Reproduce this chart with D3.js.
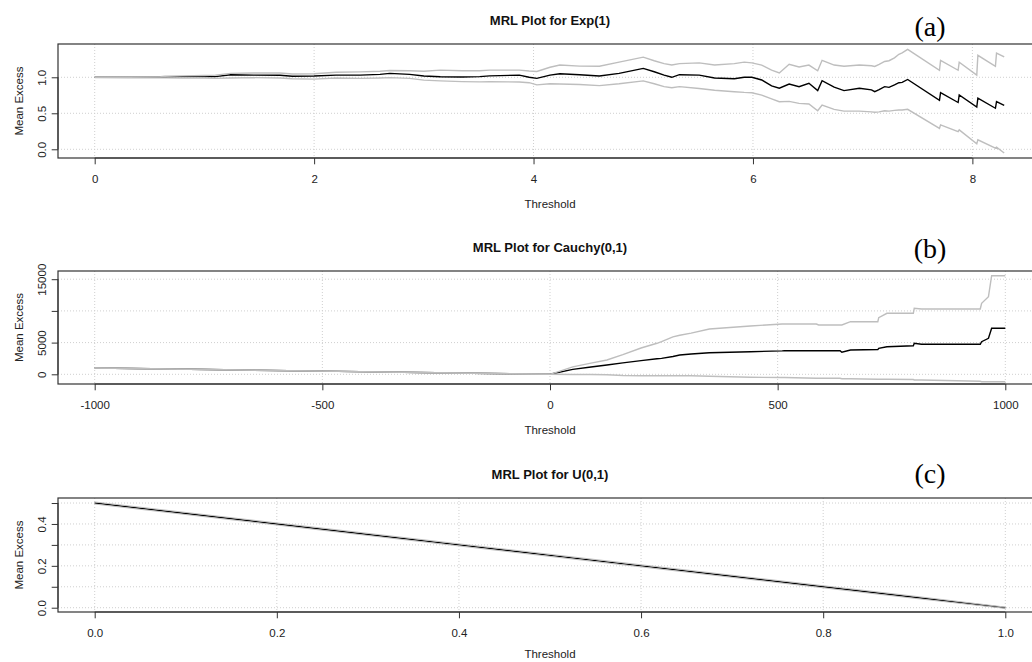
<!DOCTYPE html>
<html><head><meta charset="utf-8">
<script src="https://cdn.jsdelivr.net/npm/d3@7"></script>
<style>body{margin:0;background:#fff}svg{display:block}</style>
</head><body><svg id="chart" width="1032" height="662"></svg>
<script>
// ---------- Panel (a): MRL for Exp(1) ----------
const expThreshold = [0.00,0.30,0.60,0.64,0.80,1.00,1.10,1.24,1.45,1.69,
  1.80,2.00,2.20,2.42,2.60,2.69,2.87,3.00,3.15,3.35,
  3.51,3.60,3.87,3.96,4.03,4.15,4.24,4.42,4.60,4.78,
  5.00,5.10,5.19,5.26,5.33,5.51,5.65,5.83,5.92,5.99,
  6.08,6.17,6.24,6.33,6.42,6.51,6.59,6.63,6.74,6.83,
  6.97,7.08,7.11,7.15,7.20,7.24,7.29,7.33,7.36,7.41,
  7.70,7.71,7.87,7.88,8.04,8.05,8.21,8.22,8.29];
const expMean = [1.000,1.000,1.000,1.005,1.010,1.012,1.010,1.035,1.030,1.028,
  1.015,1.018,1.030,1.030,1.040,1.055,1.040,1.018,1.008,1.005,
  1.010,1.020,1.030,1.000,0.985,1.030,1.050,1.035,1.018,1.055,
  1.124,1.077,1.030,1.000,1.036,1.030,0.990,0.980,1.000,1.000,
  0.963,0.880,0.848,0.907,0.870,0.917,0.815,0.953,0.862,0.815,
  0.848,0.825,0.800,0.830,0.870,0.860,0.894,0.925,0.930,0.970,
  0.680,0.787,0.650,0.756,0.586,0.710,0.570,0.663,0.610];
const expUpper = [1.004,1.006,1.008,1.015,1.020,1.025,1.030,1.055,1.060,1.060,
  1.045,1.050,1.070,1.075,1.085,1.095,1.090,1.085,1.100,1.090,
  1.090,1.100,1.100,1.087,1.080,1.140,1.170,1.155,1.153,1.210,
  1.280,1.230,1.190,1.170,1.190,1.200,1.170,1.190,1.210,1.200,
  1.170,1.100,1.060,1.180,1.143,1.170,1.090,1.236,1.170,1.153,
  1.170,1.160,1.150,1.180,1.220,1.230,1.270,1.320,1.340,1.388,
  1.098,1.236,1.098,1.210,1.030,1.305,1.153,1.337,1.282];
const expLower = [0.996,0.994,0.992,0.992,0.990,0.990,0.985,0.990,0.995,0.990,
  0.980,0.975,0.990,0.985,0.990,0.995,0.985,0.960,0.950,0.940,
  0.937,0.940,0.935,0.925,0.895,0.910,0.907,0.900,0.884,0.910,
  0.950,0.910,0.870,0.855,0.870,0.845,0.820,0.800,0.790,0.785,
  0.753,0.700,0.660,0.665,0.638,0.630,0.536,0.615,0.555,0.530,
  0.530,0.520,0.515,0.520,0.535,0.530,0.540,0.545,0.545,0.555,
  0.290,0.340,0.246,0.270,0.076,0.131,0.017,0.030,-0.052];
const expXTicks = [0,2,4,6,8];
const expYTicks = [0,0.5,1.0];
const expYLabels = [0,0.5,1.0];

// ---------- Panel (b): MRL for Cauchy(0,1) ----------
const cauchyThreshold = [-1000,-750,-500,-250,0,50,90,125,160,200,
  235,245,270,285,310,350,440,510,515,585,
  590,637,641,660,720,722,740,798,800,816,
  945,948,963,970,1000];
const cauchyMean = [1000,750,500,250,0,780,1150,1470,1800,2150,
  2450,2520,2800,3040,3200,3410,3565,3700,3722,3722,
  3722,3722,3470,3833,3900,4101,4353,4511,4890,4732,
  4732,5142,5678,7255,7255];
const cauchyUpper = [1005,755,505,255,0,1180,1760,2250,3100,4150,
  4890,5150,5900,6150,6500,7150,7618,7934,7934,7934,
  7776,7776,7776,8297,8297,8927,9621,9621,10410,10300,
  10300,11199,12240,15552,15552];
const cauchyLower = [995,745,495,245,0,-20,-40,-60,-200,-221,
  -221,-221,-230,-230,-240,-300,-473,-500,-500,-631,
  -631,-631,-700,-700,-789,-789,-789,-830,-899,-899,
  -1100,-1167,-1167,-1167,-1167];
const cauchyXTicks = [-1000,-500,0,500,1000];
const cauchyYTicks = [0,5000,10000,15000];
const cauchyYLabels = [0,5000,15000];

// ---------- Panel (c): MRL for U(0,1) ----------
const uniThreshold = [0,0.1,0.2,0.3,0.4,0.5,0.6,0.7,0.8,0.9,1.0];
const uniMean  = [0.500,0.450,0.400,0.350,0.300,0.250,0.200,0.150,0.100,0.050,0.000];
const uniUpper = [0.505,0.455,0.405,0.355,0.305,0.255,0.205,0.155,0.105,0.055,0.003];
const uniLower = [0.495,0.445,0.395,0.345,0.295,0.245,0.195,0.145,0.095,0.045,-0.003];
const uniXTicks = [0,0.2,0.4,0.6,0.8,1.0];
const uniYTicks = [0,0.1,0.2,0.3,0.4,0.5];
const uniYLabels = [0,0.2,0.4];

const titles = ["MRL Plot for Exp(1)","MRL Plot for Cauchy(0,1)","MRL Plot for U(0,1)"];
const tags = ["(a)","(b)","(c)"];

// ---------- drawing ----------
const svg = d3.select("#chart");
const BOX_L = 58, BOX_R = 1042, DATA_L = 94.7, DATA_R = 1005.3;
const SANS = "'Liberation Sans', Arial, sans-serif";
const SERIF = "'Liberation Serif', 'Times New Roman', serif";

function panel(cfg){
  const x = d3.scaleLinear().domain(cfg.xDomain).range([DATA_L, DATA_R]);
  const y = d3.scaleLinear().domain(cfg.yDomain).range([cfg.bottom, cfg.top]);
  const g = svg.append("g");

  // grid
  g.selectAll(null).data(cfg.xTicks).join("line")
    .attr("x1", d => x(d)).attr("x2", d => x(d))
    .attr("y1", cfg.top).attr("y2", cfg.bottom)
    .attr("stroke", "#cfcfcf").attr("stroke-dasharray", "1,2").attr("stroke-width", 1);
  g.selectAll(null).data(cfg.yTicks).join("line")
    .attr("x1", BOX_L).attr("x2", BOX_R)
    .attr("y1", d => y(d)).attr("y2", d => y(d))
    .attr("stroke", "#cfcfcf").attr("stroke-dasharray", "1,2").attr("stroke-width", 1);

  // series: mean (black) then CI (grey) on top
  const line = d3.line().x((d, i) => x(cfg.th[i])).y(d => y(d));
  g.append("path").datum(cfg.mean).attr("d", line)
    .attr("fill", "none").attr("stroke", "#000").attr("stroke-width", 1.4);
  [cfg.upper, cfg.lower].forEach(s => {
    g.append("path").datum(s).attr("d", line)
      .attr("fill", "none").attr("stroke", "#bebebe").attr("stroke-width", cfg.ciWidth);
  });

  // box
  g.append("rect").attr("x", BOX_L).attr("y", cfg.top)
    .attr("width", BOX_R - BOX_L).attr("height", cfg.bottom - cfg.top)
    .attr("fill", "none").attr("stroke", "#333").attr("stroke-width", 1.2);

  // x axis
  const xa = g.append("g").attr("transform", `translate(0,${cfg.bottom})`)
    .call(d3.axisBottom(x).tickValues(cfg.xTicks).tickSize(6.3).tickPadding(10.5)
      .tickFormat(cfg.xFmt));
  xa.select(".domain").remove();
  xa.append("line").attr("x1", x(cfg.xTicks[0])).attr("x2", x(cfg.xTicks[cfg.xTicks.length-1]))
    .attr("stroke", "#333");
  xa.selectAll("line").attr("stroke", "#333");
  xa.selectAll("text").attr("fill", "#222").style("font-family", SANS).style("font-size", "11.5px");

  // y axis
  const ya = g.append("g").attr("transform", `translate(${BOX_L},0)`)
    .call(d3.axisLeft(y).tickValues(cfg.yTicks).tickSize(6.3)
      .tickFormat(d => cfg.yLabels.some(v => Math.abs(v - d) < 1e-9) ? cfg.yFmt(d) : ""));
  ya.select(".domain").remove();
  ya.append("line").attr("y1", y(cfg.yTicks[0])).attr("y2", y(cfg.yTicks[cfg.yTicks.length-1]))
    .attr("stroke", "#333");
  ya.selectAll("line").attr("stroke", "#333");
  ya.selectAll("text").attr("x", null).attr("dy", null)
    .attr("text-anchor", "middle").attr("transform", "translate(-12,0) rotate(-90)")
    .attr("fill", "#222").style("font-family", SANS).style("font-size", "11.5px");

  // labels
  g.append("text").attr("x", (BOX_L + BOX_R) / 2).attr("y", cfg.top - 19)
    .attr("text-anchor", "middle").attr("font-weight", "bold").attr("fill", "#111")
    .style("font-family", SANS).style("font-size", "13px").text(cfg.title);
  g.append("text").attr("x", (BOX_L + BOX_R) / 2).attr("y", cfg.bottom + cfg.thOff)
    .attr("text-anchor", "middle").attr("fill", "#222")
    .style("font-family", SANS).style("font-size", "11.5px").text("Threshold");
  g.append("text").attr("transform", `translate(22.5,${(cfg.top + cfg.bottom) / 2}) rotate(-90)`)
    .attr("text-anchor", "middle").attr("fill", "#222")
    .style("font-family", SANS).style("font-size", "11.5px").text("Mean Excess");
  g.append("text").attr("x", 930).attr("y", cfg.tagY)
    .attr("text-anchor", "middle").attr("fill", "#000")
    .style("font-family", SERIF).style("font-size", "28px").text(cfg.tag);
}

panel({th: expThreshold, mean: expMean, upper: expUpper, lower: expLower,
  xDomain: [0, 8.3], yDomain: [-0.121, 1.4625], top: 44, bottom: 158,
  xTicks: expXTicks, yTicks: expYTicks, yLabels: expYLabels,
  xFmt: d => String(d), yFmt: d3.format(".1f"), ciWidth: 1.4, thOff: 50,
  title: titles[0], tag: tags[0], tagY: 36});

panel({th: cauchyThreshold, mean: cauchyMean, upper: cauchyUpper, lower: cauchyLower,
  xDomain: [-1000, 1000], yDomain: [-1530, 16293], top: 271, bottom: 384,
  xTicks: cauchyXTicks, yTicks: cauchyYTicks, yLabels: cauchyYLabels,
  xFmt: d => String(d), yFmt: d => String(d), ciWidth: 1.4, thOff: 50,
  title: titles[1], tag: tags[1], tagY: 258});

panel({th: uniThreshold, mean: uniMean, upper: uniUpper, lower: uniLower,
  xDomain: [0, 1], yDomain: [-0.0205, 0.524], top: 498, bottom: 612,
  xTicks: uniXTicks, yTicks: uniYTicks, yLabels: uniYLabels,
  xFmt: d3.format(".1f"), yFmt: d3.format(".1f"), ciWidth: 1.0, thOff: 45.5,
  title: titles[2], tag: tags[2], tagY: 483});
</script>
</body></html>
